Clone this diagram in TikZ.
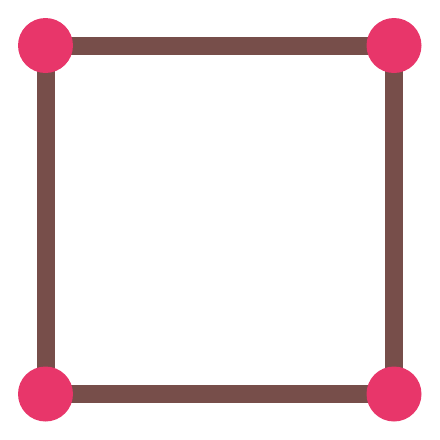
\documentclass[tikz,border=0pt]{standalone}
\usetikzlibrary{backgrounds}
\definecolor{edgebrown}{HTML}{774E4A}
\definecolor{dotpink}{HTML}{E8366A}
\begin{document}
\begin{tikzpicture}[x=1pt,y=-1pt,
  dot/.style={circle,fill=dotpink,draw=none,minimum size=55pt,inner sep=0pt},
  edge/.style={draw=edgebrown,line width=18pt}]
\useasboundingbox (0,0) rectangle (440,440);
\node[dot] (a) at (45.5,45.5) {};
\node[dot] (b) at (394,45.5) {};
\node[dot] (c) at (394,394) {};
\node[dot] (d) at (45.5,394) {};
\begin{scope}[on background layer]
\path[edge] (a.center) -- (b.center) -- (c.center) -- (d.center) -- cycle;
\end{scope}
\end{tikzpicture}
\end{document}
